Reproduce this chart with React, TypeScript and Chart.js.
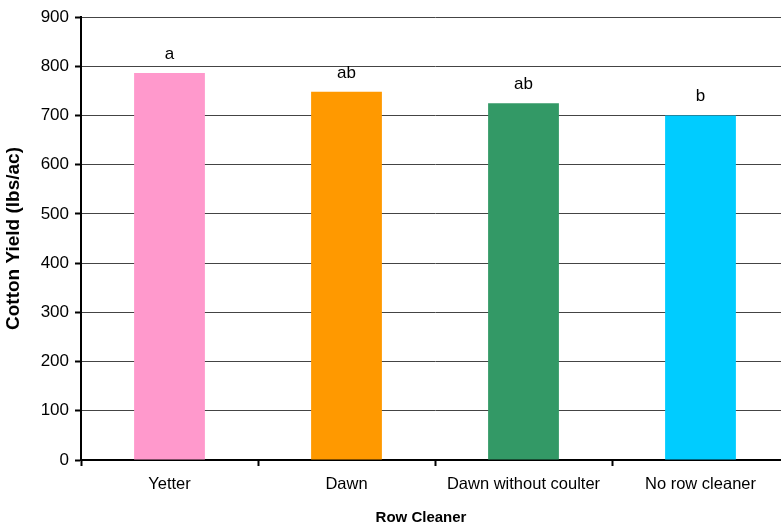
import React, { useEffect, useRef } from "react";
import { Chart, registerables } from "chart.js";

Chart.register(...registerables);

const categories = ["Yetter", "Dawn", "Dawn without coulter", "No row cleaner"];
const yieldValues = [786, 748, 725, 700];
const letters = ["a", "ab", "ab", "b"];
const barColors = ["#FF99CC", "#FF9900", "#339966", "#00CCFF"];
const yTitle = "Cotton Yield (lbs/ac)";
const xTitle = "Row Cleaner";
const FONT = "'Liberation Sans', Arial, sans-serif";

const extrasPlugin = {
  id: "extras",
  afterDatasetsDraw(chart: any) {
    const ctx = chart.ctx;
    const meta = chart.getDatasetMeta(0);
    ctx.save();
    ctx.fillStyle = "#000";
    ctx.font = `17px ${FONT}`;
    ctx.textAlign = "center";
    ctx.textBaseline = "alphabetic";
    meta.data.forEach((bar: any, i: number) => {
      ctx.fillText(letters[i], bar.x, bar.y - 14);
    });
    // axis titles
    const ca = chart.chartArea;
    ctx.font = `bold 15px ${FONT}`;
    ctx.fillText(xTitle, 421, 522);
    ctx.translate(19, (ca.top + ca.bottom) / 2);
    ctx.rotate(-Math.PI / 2);
    ctx.font = `bold 19px ${FONT}`;
    ctx.textBaseline = "alphabetic";
    ctx.fillText(yTitle, 0, 0);
    ctx.restore();
  },
};

export default function App() {
  const ref = useRef<HTMLCanvasElement>(null);
  useEffect(() => {
    if (!ref.current) return;
    const chart = new Chart(ref.current, {
      type: "bar",
      data: {
        labels: categories,
        datasets: [
          {
            data: yieldValues,
            backgroundColor: barColors,
            borderWidth: 0,
            barPercentage: 0.4,
            categoryPercentage: 1,
          },
        ],
      },
      options: {
        animation: false,
        responsive: false,
        maintainAspectRatio: false,
        layout: { padding: { top: 17, right: 1, left: 0, bottom: 0 } },
        plugins: {
          legend: { display: false },
          tooltip: { enabled: false },
        },
        scales: {
          x: {
            offset: true,
            grid: {
              display: true,
              drawOnChartArea: false,
              drawTicks: true,
              tickLength: 6,
              tickColor: "#000",
              tickWidth: 2,
              offset: true,
            },
            border: { display: true, color: "#000", width: 2 },
            ticks: {
              color: "#000",
              font: { family: FONT, size: 16.5 },
              padding: 9,
              maxRotation: 0,
              autoSkip: false,
            },
            afterFit(scale: any) {
              scale.height = 65;
            },
          },
          y: {
            min: 0,
            max: 900,
            ticks: {
              stepSize: 100,
              color: "#000",
              font: { family: FONT, size: 17 },
              padding: 6,
            },
            grid: {
              color: "#444",
              lineWidth: 1,
              drawTicks: true,
              tickLength: 6,
              tickColor: "#000",
              tickWidth: 2,
            },
            border: { display: true, color: "#000", width: 2 },
            afterFit(scale: any) {
              scale.width = 81;
            },
          },
        },
      },
      plugins: [extrasPlugin],
    });
    return () => chart.destroy();
  }, []);
  return (
    <div
      style={{
        position: "fixed",
        left: 0,
        top: 0,
        width: 781,
        height: 525,
        overflow: "hidden",
        background: "#fff",
      }}
    >
      <canvas ref={ref} width={790} height={525} style={{ display: "block" }} />
    </div>
  );
}
